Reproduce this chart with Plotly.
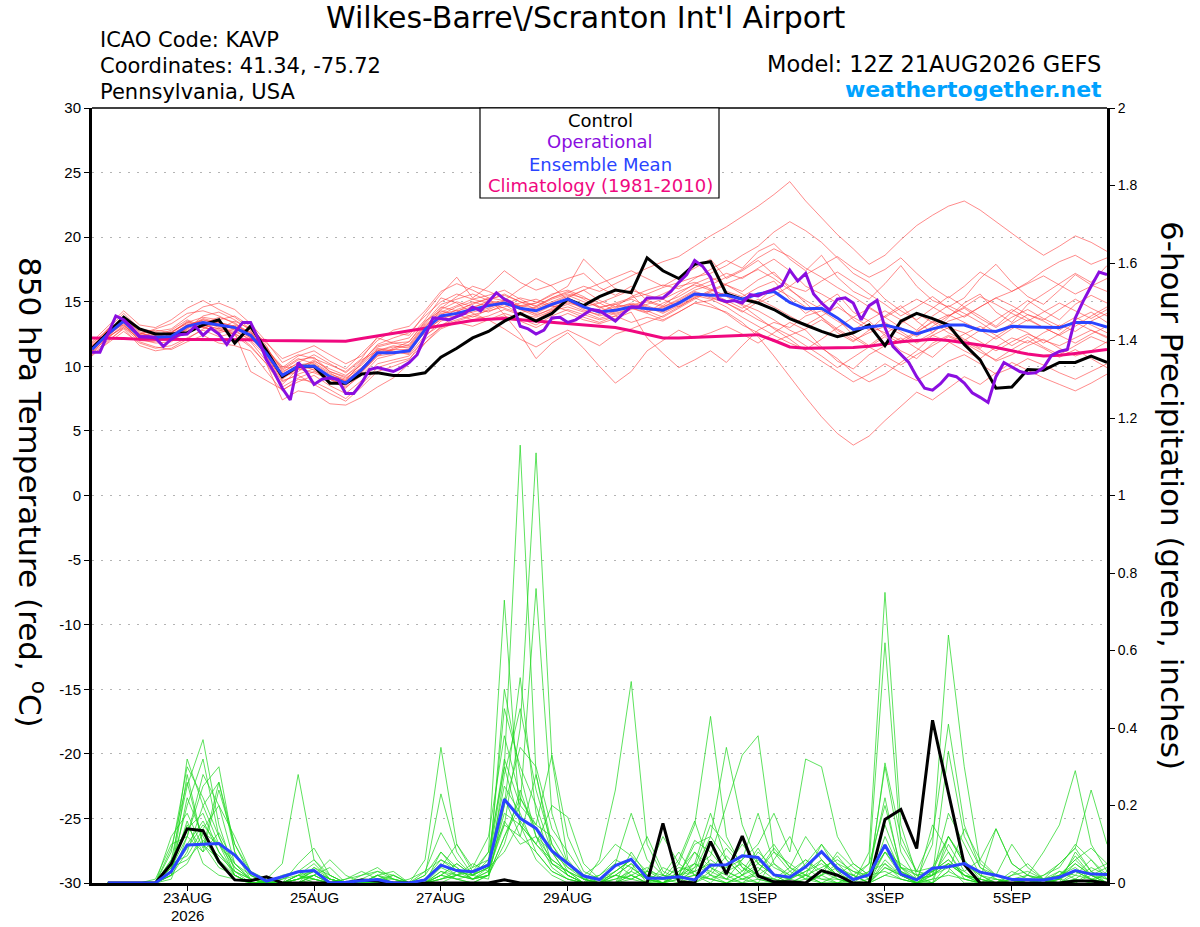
import plotly.graph_objects as go
import pandas as pd

# ---------------- time axis ----------------
t6 = pd.date_range("2026-08-21 12:00", periods=65, freq="6h")
t3 = pd.date_range("2026-08-21 12:00", periods=129, freq="3h")
tp = t6[1:]

tick_vals = ["2026-08-23", "2026-08-25", "2026-08-27", "2026-08-29",
             "2026-09-01", "2026-09-03", "2026-09-05"]
tick_text = ["23AUG", "25AUG", "27AUG", "29AUG", "1SEP", "3SEP", "5SEP"]
year_text = "2026"

left_ticks = [-30, -25, -20, -15, -10, -5, 0, 5, 10, 15, 20, 25, 30]
left_text = ["-30", "-25", "-20", "-15", "-10", "-5", "0", "5", "10", "15", "20", "25", "30"]
right_ticks = [0, 0.2, 0.4, 0.6, 0.8, 1.0, 1.2, 1.4, 1.6, 1.8, 2.0]
right_text = ["0", "0.2", "0.4", "0.6", "0.8", "1", "1.2", "1.4", "1.6", "1.8", "2"]

# ---------------- 850 hPa temperature (deg C) ----------------
control_t = [11.4, 12.6, 13.8, 12.9, 12.5, 12.5, 12.6, 13.2, 13.6, 11.8,
             13.1, 11.2, 9.2, 10.0, 10.0, 8.7, 8.7, 9.4, 9.5, 9.3,
             9.3, 9.5, 10.7, 11.4, 12.2, 12.7, 13.5, 14.1, 13.5, 14.1,
             15.2, 14.7, 15.4, 15.9, 15.7, 18.4, 17.4, 16.8, 17.9, 18.1,
             15.6, 15.2, 14.9, 14.4, 13.7, 13.2, 12.7, 12.3, 12.6, 13.2,
             11.6, 13.5, 14.1, 13.7, 13.2, 11.7, 10.5, 8.3, 8.4, 9.75,
             9.7, 10.3, 10.3, 10.8, 10.3]

mean_t = [11.3, 12.5, 13.5, 12.3, 12.25, 12.3, 13.1, 13.4, 13.2, 13.0,
          12.4, 11.0, 9.3, 10.0, 10.0, 9.2, 8.7, 9.75, 11.05, 11.05,
          11.2, 12.85, 13.9, 14.1, 14.4, 14.7, 14.9, 14.5, 14.3, 14.8,
          15.2, 14.6, 14.2, 14.35, 14.6, 14.5, 14.35, 14.9, 15.6, 15.5,
          15.5, 15.2, 15.6, 15.8, 14.95, 14.45, 14.5, 13.75, 12.85, 13.05,
          13.2, 12.9, 12.5, 12.9, 13.2, 13.2, 12.8, 12.7, 13.1, 13.05,
          13.0, 13.0, 13.4, 13.4, 13.05]

clim_t = [12.2, 12.2, 12.15, 12.1, 12.1, 12.1, 12.1, 12.05, 12.05, 12.05,
          12.05, 12.0, 12.0, 12.0, 12.0, 12.0, 11.95, 12.15, 12.35, 12.55,
          12.75, 12.95, 13.2, 13.4, 13.55, 13.65, 13.7, 13.6, 13.5, 13.4,
          13.3, 13.2, 13.1, 13.0, 12.75, 12.5, 12.2, 12.2, 12.25, 12.3,
          12.35, 12.4, 12.45, 12.0, 11.5, 11.4, 11.4, 11.4, 11.45, 11.55,
          11.75, 11.9, 12.0, 12.1, 12.0, 11.85, 11.65, 11.45, 11.2, 10.95,
          10.8, 10.85, 11.0, 11.15, 11.3]

oper_t = [11.1, 11.1, 12.5, 13.9, 13.6, 13.0, 12.3, 12.3, 12.2, 11.55,
          12.1, 12.45, 12.5, 13.1, 12.4, 12.95, 12.5, 11.7, 12.6, 13.4,
          13.4, 12.1, 10.5, 9.5, 8.3, 7.4, 10.3, 9.6, 8.6, 9.0,
          9.1, 9.0, 7.9, 7.9, 8.7, 9.75, 9.9, 9.75, 9.6, 9.9,
          10.3, 10.9, 12.3, 13.75, 13.7, 13.6, 13.85, 14.1, 14.6, 14.3,
          15.0, 15.7, 15.2, 14.9, 13.1, 12.9, 12.5, 12.8, 13.75, 13.8,
          13.4, 13.6, 14.0, 14.4, 14.3, 13.9, 13.5, 14.1, 14.6, 14.6,
          15.3, 15.3, 15.3, 15.8, 16.5, 17.1, 18.2, 17.75, 16.9, 15.2,
          15.0, 15.1, 14.9, 15.55, 15.45, 15.75, 15.95, 16.25, 17.45, 16.6,
          17.2, 15.6, 14.9, 14.35, 15.2, 15.3, 14.9, 13.6, 14.7, 15.1,
          13.0, 11.55, 10.9, 10.3, 9.2, 8.3, 8.15, 8.65, 9.35, 9.2,
          8.7, 7.95, 7.6, 7.2, 9.2, 10.3, 9.95, 9.6, 9.45, 9.5,
          9.9, 10.85, 11.15, 11.3, 13.75, 15.05, 16.2, 17.3, 17.1]

ens_t01 = [11.0, 12.3, 13.8, 12.6, 12.2, 12.0, 12.9, 13.9, 14.2, 13.6, 12.8, 10.6, 8.8, 9.4, 9.8,
           9.0, 8.3, 9.5, 10.8, 11.4, 11.9, 13.4, 14.8, 15.2, 15.6, 15.1, 14.8, 14.0, 13.6, 14.3,
           15.3, 15.9, 15.1, 14.6, 15.4, 15.9, 16.3, 16.0, 16.8, 17.5, 18.2, 17.6, 18.9, 19.5, 18.3,
           17.4, 18.6, 16.9, 15.8, 15.2, 16.4, 17.8, 16.2, 15.1, 14.6, 15.3, 16.8, 17.9, 16.5, 15.4,
           14.8, 15.9, 17.1, 16.3, 15.8]
ens_t02 = [11.6, 12.7, 13.2, 12.0, 11.9, 12.6, 13.5, 13.0, 12.8, 12.5, 11.9, 10.4, 8.6, 9.8, 10.5,
           9.6, 9.2, 10.4, 11.6, 11.9, 12.2, 13.6, 15.3, 14.9, 14.1, 13.6, 12.9, 12.1, 11.5, 12.2,
           12.8, 12.2, 11.6, 12.5, 12.9, 13.4, 13.9, 14.6, 15.3, 14.8, 14.1, 13.2, 12.6, 11.9, 12.4,
           11.6, 10.8, 9.9, 10.7, 11.5, 12.3, 11.2, 10.6, 11.8, 12.4, 11.9, 11.3, 10.4, 10.9, 11.6,
           12.1, 11.4, 10.8, 11.2, 11.9]
ens_t03 = [11.2, 12.9, 14.1, 12.9, 12.7, 12.9, 13.8, 14.6, 14.9, 14.4, 13.3, 11.9, 10.3, 10.9, 10.6,
           10.1, 9.6, 10.6, 12.3, 12.6, 12.4, 14.1, 15.6, 16.9, 15.3, 16.2, 17.4, 16.5, 15.9, 16.3,
           16.8, 17.2, 16.1, 15.5, 16.2, 15.1, 14.7, 15.6, 16.4, 16.9, 16.3, 15.8, 16.7, 17.3, 16.0,
           14.9, 13.8, 12.6, 11.9, 12.8, 13.9, 14.7, 13.5, 12.6, 13.8, 14.9, 15.6, 14.2, 13.4, 14.8,
           15.6, 16.4, 17.2, 16.5, 17.8]
ens_t04 = [10.9, 11.8, 12.7, 11.8, 11.4, 11.6, 12.2, 12.8, 12.3, 12.6, 9.6, 8.9, 8.2, 8.8, 9.3,
           8.5, 7.9, 8.9, 10.2, 10.5, 10.8, 12.1, 13.0, 13.5, 13.9, 13.6, 14.1, 13.7, 13.2, 13.9,
           14.4, 14.0, 13.6, 13.9, 13.4, 13.8, 13.5, 14.2, 14.9, 15.1, 15.8, 15.4, 16.1, 16.6, 15.2,
           14.1, 14.8, 15.6, 14.2, 13.5, 12.4, 11.8, 12.6, 13.5, 12.9, 12.1, 11.4, 12.3, 13.1, 12.6,
           11.8, 12.5, 13.4, 12.8, 12.2]
ens_t05 = [11.7, 12.9, 13.6, 12.5, 12.9, 13.3, 14.1, 14.3, 13.9, 13.3, 12.6, 11.4, 9.8, 10.6, 10.2,
           9.4, 9.0, 10.2, 11.5, 11.8, 11.6, 13.2, 14.2, 14.7, 15.2, 15.5, 15.9, 15.2, 14.6, 15.3,
           15.8, 15.2, 14.5, 14.9, 15.3, 15.6, 16.1, 16.5, 16.9, 17.2, 17.8, 18.6, 19.3, 20.4, 21.2,
           20.5, 19.6, 18.4, 17.2, 16.5, 15.2, 14.3, 13.6, 14.5, 15.4, 14.6, 13.9, 13.1, 14.2, 15.1,
           14.3, 13.6, 14.8, 15.5, 14.9]
ens_t06 = [11.4, 12.4, 13.3, 12.1, 11.8, 11.9, 12.7, 13.2, 12.9, 13.5, 12.9, 11.2, 9.6, 10.2, 9.7,
           8.8, 8.4, 9.3, 10.6, 10.9, 11.3, 12.6, 13.7, 14.4, 14.8, 15.3, 14.0, 12.5, 10.6, 11.8,
           12.6, 11.4, 10.0, 8.7, 9.6, 11.2, 12.0, 12.8, 12.2, 12.6, 13.1, 12.5, 11.8, 12.6, 13.4,
           12.8, 11.5, 10.4, 9.8, 10.9, 11.6, 12.2, 11.4, 10.7, 11.8, 12.5, 13.1, 12.4, 11.6, 12.3,
           11.5, 10.9, 11.6, 12.3, 11.8]
ens_t07 = [11.1, 12.6, 13.9, 12.8, 12.4, 12.6, 13.4, 13.8, 13.6, 13.9, 13.1, 11.6, 9.2, 9.6, 10.4,
           9.8, 9.3, 10.1, 11.3, 11.1, 11.0, 12.8, 14.4, 15.0, 14.6, 14.2, 14.8, 15.3, 15.0, 14.6,
           14.9, 14.6, 14.9, 15.4, 15.9, 15.5, 15.2, 15.8, 16.3, 15.9, 15.5, 14.8, 14.3, 13.6, 12.8,
           12.2, 11.4, 10.6, 9.5, 8.8, 9.4, 10.3, 11.2, 12.4, 11.9, 11.2, 10.6, 11.5, 12.2, 11.8,
           12.6, 13.2, 12.7, 13.5, 14.1]
ens_t08 = [11.5, 12.2, 13.1, 12.4, 12.6, 12.4, 12.8, 13.1, 13.3, 12.4, 11.5, 10.2, 8.4, 9.1, 9.6,
           9.2, 8.9, 10.3, 11.7, 12.2, 12.6, 13.9, 15.0, 15.6, 15.2, 14.9, 14.5, 14.1, 14.6, 15.2,
           15.6, 15.3, 14.9, 14.3, 14.8, 14.2, 14.9, 15.4, 16.1, 16.6, 17.2, 16.8, 17.6, 18.3, 17.4,
           16.2, 15.6, 14.9, 13.6, 12.8, 13.4, 12.7, 11.9, 12.6, 13.5, 13.9, 14.6, 15.3, 14.7, 14.0,
           13.6, 14.4, 15.2, 14.5, 13.9]
ens_t09 = [10.8, 11.9, 13.0, 11.9, 11.5, 11.3, 11.9, 12.4, 11.8, 11.6, 11.2, 9.6, 8.1, 9.0, 8.8,
           8.2, 7.5, 8.6, 9.9, 10.3, 10.6, 11.8, 12.9, 13.4, 13.1, 13.6, 13.9, 13.5, 13.0, 13.6,
           14.1, 13.6, 13.3, 13.7, 14.2, 12.2, 11.0, 9.9, 10.5, 11.2, 10.3, 11.6, 12.8, 13.4, 13.0,
           13.9, 14.3, 13.5, 12.8, 13.6, 14.3, 13.6, 12.8, 13.9, 14.7, 14.1, 13.4, 12.6, 13.3, 14.0,
           13.5, 12.8, 13.6, 14.2, 13.4]
ens_t10 = [11.3, 12.8, 13.5, 12.2, 12.4, 12.8, 13.6, 13.1, 12.6, 12.9, 12.2, 11.1, 9.9, 10.8, 11.2,
           10.4, 9.8, 11.0, 12.2, 11.8, 11.9, 13.5, 14.3, 14.0, 14.5, 15.1, 15.6, 15.0, 14.4, 14.9,
           15.4, 15.9, 16.4, 16.9, 17.4, 16.8, 16.2, 16.9, 17.6, 18.3, 16.8, 17.4, 18.2, 17.1, 16.2,
           15.8, 16.6, 17.3, 16.5, 15.6, 14.8, 13.9, 14.6, 15.4, 14.5, 13.8, 14.6, 15.3, 15.8, 16.4,
           17.0, 16.3, 15.6, 16.2, 16.8]
ens_t11 = [11.9, 13.1, 14.3, 13.2, 13.0, 13.6, 14.5, 15.1, 14.4, 13.8, 12.9, 11.8, 10.6, 11.1, 11.6,
           10.9, 10.2, 10.8, 12.0, 12.8, 13.1, 14.3, 15.8, 16.4, 15.9, 15.3, 15.1, 14.6, 14.9, 15.5,
           16.2, 18.3, 17.1, 16.0, 15.6, 14.3, 13.8, 14.5, 15.2, 15.8, 16.3, 15.6, 14.9, 15.5, 16.2,
           17.1, 17.8, 18.5, 17.6, 16.9, 17.5, 18.4, 17.2, 16.1, 15.3, 16.2, 17.3, 16.6, 15.8, 16.5,
           17.4, 18.1, 18.6, 17.9, 18.4]
ens_t12 = [11.0, 12.0, 12.9, 11.6, 11.2, 11.4, 12.1, 12.9, 13.5, 12.8, 12.0, 10.8, 8.9, 9.3, 8.6,
           7.9, 7.3, 8.4, 9.6, 10.0, 10.5, 12.3, 13.5, 13.9, 14.2, 14.5, 15.1, 16.0, 16.8, 16.2,
           15.1, 14.4, 13.9, 14.2, 14.7, 15.1, 15.6, 16.2, 16.5, 16.0, 15.4, 14.7, 13.8, 12.9, 12.1,
           11.2, 10.4, 9.6, 8.8, 9.4, 10.2, 9.5, 8.9, 9.6, 10.4, 10.9, 10.2, 9.4, 9.9, 10.6,
           10.1, 9.5, 9.0, 9.6, 10.2]
ens_t13 = [11.6, 12.6, 13.7, 12.7, 12.1, 12.2, 13.0, 13.6, 13.2, 12.9, 12.4, 10.9, 9.5, 10.3, 10.9,
           10.2, 9.5, 10.5, 11.2, 11.6, 11.4, 13.0, 14.5, 15.4, 16.2, 15.8, 15.3, 14.7, 14.9, 15.6,
           15.9, 15.4, 14.6, 14.0, 14.5, 15.0, 14.6, 15.1, 15.8, 15.4, 14.9, 14.2, 15.0, 16.1, 15.4,
           14.6, 13.8, 12.9, 12.2, 11.5, 10.8, 10.1, 10.9, 11.6, 12.3, 11.8, 11.1, 10.5, 11.3, 12.0,
           11.4, 10.7, 11.3, 10.6, 9.9]
ens_t14 = [11.2, 12.4, 13.4, 12.3, 12.6, 12.5, 13.2, 13.5, 13.0, 12.7, 12.1, 11.3, 10.0, 9.8, 9.5,
           9.0, 8.6, 9.7, 11.4, 11.2, 10.9, 12.4, 13.2, 13.6, 14.0, 14.3, 14.6, 14.9, 15.2, 14.7,
           14.3, 13.8, 13.4, 13.9, 14.4, 14.8, 15.2, 14.6, 15.3, 15.9, 16.4, 16.9, 17.5, 16.8, 15.9,
           15.1, 14.4, 13.7, 12.4, 11.6, 12.5, 13.3, 14.1, 13.4, 12.6, 12.0, 12.8, 13.6, 14.4, 13.7,
           13.0, 12.4, 13.1, 13.9, 14.6]
ens_t15 = [11.8, 12.8, 13.5, 12.4, 12.3, 12.7, 13.3, 13.0, 12.7, 13.2, 12.6, 10.7, 9.1, 10.1, 10.3,
           9.5, 8.8, 9.9, 11.1, 11.3, 11.7, 13.3, 14.6, 14.3, 13.8, 14.4, 14.9, 14.4, 13.9, 14.5,
           15.0, 14.6, 14.1, 14.8, 15.2, 14.7, 14.2, 14.8, 15.5, 15.2, 14.6, 13.8, 13.1, 12.4, 11.8,
           11.3, 12.1, 13.0, 13.8, 14.5, 13.8, 13.0, 12.3, 13.1, 13.9, 14.5, 13.7, 13.0, 13.8, 14.4,
           13.7, 13.1, 13.8, 13.2, 12.6]
ens_t16 = [11.4, 12.5, 13.6, 12.5, 12.0, 12.1, 12.6, 13.3, 13.8, 13.4, 12.3, 11.0, 9.0, 9.9, 10.1,
           9.3, 8.9, 9.8, 11.0, 11.0, 11.1, 12.7, 14.0, 14.6, 15.0, 14.6, 14.9, 14.7, 14.5, 15.0,
           15.5, 15.0, 14.6, 14.8, 14.5, 14.2, 14.6, 15.2, 15.9, 16.3, 16.9, 17.5, 18.4, 19.1, 18.5,
           17.6, 16.9, 16.1, 15.4, 14.6, 13.8, 14.5, 15.2, 14.6, 13.9, 14.6, 15.4, 14.8, 14.1, 13.5,
           14.2, 14.9, 14.3, 13.7, 14.4]
ens_t17 = [11.1, 12.2, 13.2, 12.0, 12.2, 12.3, 12.9, 13.4, 13.1, 13.0, 12.7, 11.5, 9.7, 10.5, 10.7,
           9.6, 9.1, 9.9, 11.2, 11.5, 11.5, 13.1, 14.1, 14.3, 14.6, 14.9, 15.1, 14.6, 14.0, 14.4,
           14.8, 14.3, 14.0, 14.5, 14.9, 14.6, 14.1, 14.7, 15.4, 15.7, 15.1, 14.5, 15.2, 14.6, 13.9,
           13.2, 13.9, 14.6, 13.8, 13.1, 12.6, 12.0, 12.7, 13.4, 14.0, 13.4, 12.8, 12.1, 12.9, 13.6,
           13.0, 12.4, 11.8, 12.5, 13.1]
ens_t18 = [11.5, 12.3, 13.0, 12.2, 12.5, 12.2, 13.0, 13.7, 13.4, 13.1, 12.5, 11.2, 9.4, 10.0, 9.9,
           9.1, 8.7, 9.6, 10.9, 11.3, 11.3, 12.9, 13.8, 13.9, 14.3, 14.8, 15.0, 14.4, 14.1, 14.7,
           15.1, 14.5, 14.3, 14.6, 14.8, 14.5, 14.5, 15.0, 15.7, 15.3, 14.9, 14.3, 13.6, 13.0, 12.4,
           12.9, 13.6, 12.8, 12.0, 12.6, 13.1, 12.5, 11.8, 12.4, 13.0, 12.6, 11.9, 11.2, 11.9, 12.5,
           12.0, 11.6, 12.2, 12.8, 12.3]
ens_t19 = [11.3, 12.6, 13.4, 12.3, 12.1, 12.4, 13.2, 13.6, 13.4, 13.1, 12.2, 10.9, 9.1, 9.8, 9.9,
           9.0, 8.5, 9.6, 10.8, 11.0, 11.2, 12.8, 13.6, 14.2, 14.9, 15.2, 15.5, 15.0, 14.7, 15.3,
           15.7, 16.2, 15.8, 16.4, 17.0, 17.6, 18.1, 18.5, 19.3, 20.1, 20.8, 21.6, 22.4, 23.3, 24.3,
           22.8, 21.5, 20.2, 19.1, 17.9, 18.6, 19.8, 20.9, 21.7, 22.4, 22.8, 22.1, 21.2, 20.3, 19.4,
           18.6, 19.3, 20.1, 19.6, 18.9]
ens_t20 = [11.2, 12.3, 13.4, 12.5, 12.8, 12.6, 13.4, 13.2, 12.9, 12.6, 11.6, 10.2, 7.4, 8.1, 7.9,
           7.1, 7.0, 7.6, 8.4, 9.1, 10.2, 11.8, 13.1, 14.0, 13.6, 13.9, 14.4, 14.0, 13.8, 14.3,
           14.6, 14.2, 13.7, 14.1, 14.5, 14.1, 13.6, 14.2, 14.9, 14.6, 14.2, 13.4, 12.3, 10.8, 9.2,
           7.6, 6.1, 4.8, 3.9, 4.6, 5.8, 6.9, 8.0, 7.4, 8.3, 9.2, 8.6, 9.5, 10.3, 9.7,
           9.1, 8.6, 8.1, 8.7, 9.4]

ens_t = [ens_t01, ens_t02, ens_t03, ens_t04, ens_t05, ens_t06, ens_t07, ens_t08, ens_t09, ens_t10,
         ens_t11, ens_t12, ens_t13, ens_t14, ens_t15, ens_t16, ens_t17, ens_t18, ens_t19, ens_t20]

# ---------------- 6-hour precipitation (inches), valid 21AUG18Z onward ----------------
control_p = [0, 0, 0, 0, 0.05, 0.14, 0.135, 0.055, 0.008, 0.006, 0.016, 0, 0, 0, 0, 0,
             0.008, 0.005, 0, 0, 0, 0, 0, 0, 0, 0.008, 0, 0, 0, 0, 0, 0,
             0, 0, 0, 0.154, 0.003, 0, 0.107, 0.023, 0.121, 0.018, 0.003, 0.003, 0, 0.032, 0.02, 0,
             0, 0.164, 0.19, 0.089, 0.42, 0.233, 0.048, 0, 0, 0, 0, 0, 0, 0.005, 0.005, 0]

mean_p = [0, 0, 0, 0, 0.03, 0.098, 0.1, 0.102, 0.072, 0.027, 0.005, 0.016, 0.029, 0.032, 0, 0.002,
          0.006, 0.009, 0, 0, 0.008, 0.046, 0.032, 0.029, 0.046, 0.216, 0.167, 0.141, 0.083, 0.051, 0.018, 0.009,
          0.045, 0.061, 0.012, 0.012, 0.016, 0.008, 0.046, 0.047, 0.07, 0.066, 0.021, 0.015, 0.042, 0.081, 0.038, 0.009,
          0.021, 0.098, 0.023, 0.008, 0.038, 0.042, 0.05, 0.028, 0.02, 0.009, 0.008, 0.008, 0.015, 0.032, 0.023, 0.022]

ens_p01 = [0, 0, 0, 0, 0.06, 0.25, 0.37, 0.15, 0.03, 0, 0, 0, 0.02, 0.01, 0, 0,
           0, 0, 0, 0, 0.01, 0.06, 0.03, 0.02, 0.04, 0.22, 0.12, 0.08, 0.03, 0.01, 0, 0,
           0.02, 0.05, 0, 0, 0.03, 0.08, 0.04, 0.02, 0, 0.01, 0, 0.03, 0.06, 0.02, 0, 0,
           0, 0.04, 0.02, 0, 0.03, 0.05, 0.02, 0, 0, 0, 0.01, 0, 0.02, 0.04, 0.01, 0]
ens_p02 = [0, 0, 0, 0, 0.02, 0.28, 0.1, 0.06, 0.02, 0, 0, 0, 0, 0.04, 0.02, 0,
           0, 0.02, 0, 0, 0, 0.02, 0.05, 0.02, 0.05, 0.3, 1.13, 0.28, 0.08, 0.02, 0, 0,
           0, 0.08, 0.02, 0, 0.01, 0.05, 0.18, 0.06, 0.02, 0, 0, 0.01, 0.04, 0.08, 0.03, 0,
           0, 0.12, 0.03, 0, 0.01, 0.1, 0.03, 0, 0, 0.01, 0, 0, 0, 0.02, 0.06, 0.01]
ens_p03 = [0, 0, 0, 0.01, 0.1, 0.12, 0.28, 0.2, 0.05, 0.01, 0, 0, 0, 0, 0, 0,
           0.02, 0.04, 0.01, 0, 0, 0, 0.02, 0.05, 0.03, 0.15, 0.4, 1.11, 0.32, 0.06, 0.01, 0,
           0, 0.02, 0, 0.01, 0.06, 0.16, 0.04, 0.01, 0, 0.03, 0.09, 0.04, 0.01, 0, 0.02, 0.05,
           0.02, 0.3, 0.08, 0.01, 0.02, 0.04, 0, 0, 0, 0, 0, 0, 0.01, 0.05, 0.02, 0]
ens_p04 = [0, 0, 0, 0, 0.03, 0.16, 0.05, 0.02, 0.01, 0, 0, 0, 0.05, 0.09, 0.02, 0,
           0, 0, 0, 0, 0.03, 0.13, 0.06, 0.02, 0.08, 0.73, 0.15, 0.06, 0.02, 0, 0, 0,
           0.05, 0.02, 0, 0.04, 0.02, 0, 0.03, 0.09, 0.04, 0.01, 0, 0, 0.02, 0, 0, 0.02,
           0.05, 0.2, 0.04, 0, 0.15, 0.08, 0.01, 0, 0.01, 0, 0, 0, 0, 0.08, 0.03, 0]
ens_p05 = [0, 0, 0, 0, 0.08, 0.3, 0.22, 0.12, 0.02, 0, 0, 0.01, 0.02, 0, 0, 0.01,
           0.03, 0.01, 0, 0, 0, 0.04, 0.1, 0.04, 0.06, 0.32, 0.2, 0.76, 0.18, 0.05, 0.01, 0,
           0, 0.01, 0.03, 0.12, 0.05, 0.02, 0, 0.04, 0.1, 0.05, 0.02, 0, 0, 0.03, 0.07, 0.02,
           0, 0.02, 0.04, 0.03, 0.02, 0.08, 0.02, 0.01, 0, 0, 0.02, 0.01, 0, 0.01, 0, 0.03]
ens_p06 = [0, 0, 0, 0, 0.04, 0.2, 0.32, 0.12, 0.04, 0.01, 0, 0.02, 0.03, 0.01, 0, 0,
           0, 0, 0, 0, 0.02, 0.23, 0.08, 0.02, 0.04, 0.2, 0.53, 0.18, 0.05, 0.02, 0, 0,
           0.03, 0.06, 0.01, 0, 0.02, 0.11, 0.08, 0.03, 0.01, 0, 0.06, 0.12, 0.04, 0.01, 0, 0,
           0.03, 0.22, 0.03, 0.01, 0, 0.12, 0.05, 0.02, 0.01, 0, 0, 0.01, 0.03, 0.01, 0, 0]
ens_p07 = [0, 0, 0, 0, 0.02, 0.08, 0.2, 0.26, 0.1, 0.02, 0, 0, 0.01, 0.03, 0.01, 0,
           0, 0.02, 0.03, 0, 0, 0.08, 0.03, 0.01, 0.02, 0.5, 0.28, 0.12, 0.04, 0.01, 0, 0,
           0.01, 0.03, 0.12, 0.03, 0.01, 0, 0.02, 0.07, 0.03, 0.09, 0.02, 0, 0.01, 0.06, 0.02, 0,
           0, 0.05, 0.02, 0, 0.02, 0.18, 0.1, 0.02, 0, 0.02, 0.05, 0.01, 0, 0, 0.03, 0.05]
ens_p08 = [0, 0, 0, 0, 0.12, 0.18, 0.09, 0.26, 0.08, 0.01, 0, 0, 0, 0.02, 0.06, 0.02,
           0, 0, 0, 0, 0, 0.02, 0.01, 0, 0.02, 0.28, 0.45, 0.24, 0.1, 0.03, 0, 0.06,
           0.24, 0.52, 0.1, 0.02, 0.01, 0.03, 0.12, 0.06, 0.02, 0.04, 0.01, 0, 0, 0.02, 0.08, 0.04,
           0.01, 0.08, 0.02, 0, 0, 0.03, 0.01, 0, 0, 0.01, 0, 0, 0.02, 0.06, 0.02, 0]
ens_p09 = [0, 0, 0, 0, 0.03, 0.1, 0.16, 0.08, 0.02, 0, 0, 0, 0.01, 0.04, 0.01, 0,
           0, 0, 0, 0, 0.01, 0.05, 0.02, 0.04, 0.12, 0.38, 0.22, 0.15, 0.12, 0.05, 0.01, 0,
           0, 0.02, 0.04, 0.01, 0, 0.04, 0.15, 0.1, 0.05, 0.02, 0, 0.01, 0.03, 0.06, 0.01, 0,
           0.08, 0.75, 0.15, 0.02, 0, 0.05, 0.02, 0, 0, 0, 0.01, 0.02, 0.04, 0.1, 0.06, 0.02]
ens_p10 = [0, 0, 0, 0, 0.01, 0.12, 0.25, 0.3, 0.08, 0.02, 0, 0, 0, 0.02, 0.04, 0,
           0.01, 0.03, 0.02, 0, 0, 0.01, 0.03, 0.02, 0.01, 0.2, 0.35, 0.3, 0.14, 0.08, 0.02, 0,
           0.02, 0.01, 0, 0, 0.02, 0.05, 0.03, 0.01, 0.06, 0.18, 0.05, 0.02, 0.02, 0.1, 0.05, 0.01,
           0.05, 0.62, 0.1, 0.03, 0.04, 0.12, 0.06, 0.01, 0, 0.03, 0.01, 0, 0.01, 0.07, 0.02, 0]
ens_p11 = [0, 0, 0, 0, 0.05, 0.07, 0.14, 0.2, 0.12, 0.03, 0, 0, 0.02, 0.05, 0.01, 0,
           0, 0.01, 0.02, 0, 0, 0.03, 0.01, 0, 0.02, 0.12, 0.22, 0.14, 0.05, 0.02, 0, 0.02,
           0.05, 0.18, 0.06, 0.02, 0.01, 0.08, 0.02, 0, 0.02, 0.08, 0.04, 0.02, 0.06, 0.03, 0.01, 0,
           0, 0.08, 0.03, 0.01, 0.1, 0.64, 0.3, 0.05, 0.02, 0.01, 0, 0, 0.01, 0.03, 0.01, 0]
ens_p12 = [0, 0, 0, 0, 0.02, 0.22, 0.12, 0.05, 0.01, 0, 0, 0, 0.01, 0.02, 0, 0,
           0, 0, 0, 0.01, 0.03, 0.06, 0.04, 0.01, 0.03, 0.18, 0.15, 0.1, 0.06, 0.03, 0, 0,
           0, 0.04, 0.01, 0, 0.05, 0.15, 0.43, 0.12, 0.04, 0.02, 0.05, 0.01, 0, 0.02, 0.04, 0.02,
           0, 0.04, 0.02, 0, 0.03, 0.12, 0.05, 0.02, 0, 0, 0, 0.01, 0.02, 0.05, 0.02, 0.01]
ens_p13 = [0, 0, 0, 0, 0.06, 0.14, 0.18, 0.08, 0.03, 0.01, 0, 0, 0.02, 0.03, 0.01, 0,
           0, 0.02, 0, 0, 0, 0.03, 0.02, 0.01, 0.02, 0.1, 0.24, 0.12, 0.06, 0.03, 0.01, 0.02,
           0.06, 0.04, 0.01, 0, 0.02, 0.04, 0.07, 0.2, 0.33, 0.38, 0.08, 0.03, 0.01, 0.02, 0.05, 0.03,
           0.01, 0.1, 0.04, 0.02, 0.03, 0.06, 0.02, 0, 0, 0.01, 0.02, 0, 0, 0.01, 0.04, 0.02]
ens_p14 = [0, 0, 0, 0, 0.09, 0.26, 0.1, 0.04, 0.02, 0, 0, 0.01, 0.03, 0.06, 0.02, 0,
           0, 0.01, 0, 0, 0.02, 0.08, 0.04, 0.01, 0.04, 0.45, 0.3, 0.2, 0.08, 0.02, 0, 0.01,
           0.03, 0.06, 0.02, 0.01, 0.04, 0.03, 0.01, 0.03, 0.05, 0.02, 0.01, 0.04, 0.12, 0.06, 0.02, 0,
           0.01, 0.31, 0.12, 0.03, 0.12, 0.41, 0.15, 0.04, 0.01, 0, 0, 0.02, 0.05, 0.09, 0.03, 0.01]
ens_p15 = [0, 0, 0, 0, 0.03, 0.32, 0.2, 0.1, 0.02, 0, 0, 0, 0, 0.02, 0, 0,
           0, 0.01, 0.01, 0, 0.06, 0.35, 0.1, 0.03, 0.05, 0.25, 0.18, 0.08, 0.03, 0.01, 0, 0,
           0.01, 0.02, 0, 0.02, 0.08, 0.02, 0.01, 0, 0.02, 0.05, 0.1, 0.04, 0.02, 0, 0, 0.01,
           0.03, 0.05, 0.01, 0, 0.02, 0.34, 0.12, 0.04, 0.02, 0.01, 0, 0, 0.03, 0.02, 0.01, 0]
ens_p16 = [0, 0, 0, 0, 0.04, 0.12, 0.08, 0.24, 0.1, 0.03, 0.01, 0.05, 0.28, 0.06, 0.01, 0,
           0, 0.02, 0.01, 0, 0, 0.02, 0.05, 0.02, 0.06, 0.15, 0.12, 0.28, 0.1, 0.04, 0.01, 0,
           0.02, 0.01, 0.03, 0.02, 0.01, 0.02, 0.06, 0.03, 0.01, 0.03, 0.08, 0.05, 0.02, 0.01, 0.01, 0,
           0, 0.02, 0.01, 0, 0, 0.03, 0.14, 0.06, 0.02, 0.01, 0, 0, 0.01, 0, 0.02, 0.04]
ens_p17 = [0, 0, 0, 0, 0.03, 0.09, 0.15, 0.1, 0.05, 0.02, 0, 0, 0.01, 0.02, 0, 0,
           0.01, 0, 0, 0, 0.01, 0.04, 0.02, 0.01, 0.02, 0.12, 0.2, 0.15, 0.33, 0.12, 0.03, 0.01,
           0.02, 0.05, 0.02, 0, 0.03, 0.05, 0.02, 0.01, 0.03, 0.06, 0.02, 0.01, 0.05, 0.1, 0.03, 0.02,
           0, 0.06, 0.02, 0.01, 0.02, 0.05, 0.03, 0.06, 0.14, 0.05, 0.02, 0.08, 0.15, 0.29, 0.1, 0.03]
ens_p18 = [0, 0, 0, 0, 0.02, 0.05, 0.13, 0.1, 0.04, 0.01, 0, 0, 0, 0.01, 0, 0,
           0, 0, 0.02, 0, 0, 0.01, 0.02, 0.03, 0.08, 0.3, 0.15, 0.1, 0.2, 0.17, 0.05, 0.01,
           0, 0.03, 0.01, 0, 0.01, 0.02, 0.01, 0, 0.01, 0.02, 0.01, 0, 0.02, 0.04, 0.06, 0.03,
           0.02, 0.15, 0.04, 0.01, 0.02, 0.05, 0.02, 0.01, 0.14, 0.05, 0.02, 0.01, 0.05, 0.09, 0.24, 0.1]
ens_p19 = [0, 0, 0, 0, 0.05, 0.15, 0.08, 0.13, 0.05, 0.01, 0, 0, 0.01, 0.03, 0.01, 0,
           0, 0, 0, 0, 0, 0.01, 0.02, 0.01, 0.03, 0.16, 0.1, 0.12, 0.08, 0.04, 0.02, 0.05,
           0.1, 0.07, 0.03, 0.01, 0.02, 0.1, 0.12, 0.35, 0.15, 0.05, 0.02, 0.01, 0.03, 0.05, 0.02, 0.01,
           0.02, 0.03, 0.01, 0, 0.01, 0.02, 0.01, 0, 0.02, 0.1, 0.04, 0.01, 0, 0.03, 0.01, 0.02]
ens_p20 = [0, 0, 0, 0, 0.04, 0.06, 0.11, 0.07, 0.03, 0.01, 0, 0, 0.02, 0.01, 0, 0.01,
           0.02, 0.03, 0.01, 0, 0, 0.02, 0.01, 0.02, 0.04, 0.08, 0.16, 0.1, 0.05, 0.03, 0.01, 0,
           0.03, 0.06, 0.02, 0.01, 0.02, 0.03, 0.05, 0.04, 0.06, 0.1, 0.18, 0.08, 0.32, 0.3, 0.12, 0.05,
           0.02, 0.08, 0.05, 0.02, 0.03, 0.06, 0.02, 0.01, 0, 0.02, 0.03, 0.01, 0.02, 0.06, 0.09, 0.05]

ens_p = [ens_p01, ens_p02, ens_p03, ens_p04, ens_p05, ens_p06, ens_p07, ens_p08, ens_p09, ens_p10,
         ens_p11, ens_p12, ens_p13, ens_p14, ens_p15, ens_p16, ens_p17, ens_p18, ens_p19, ens_p20]

# ---------------- styles ----------------
RED = "rgba(255,60,60,0.75)"
GREEN = "rgba(30,215,30,0.9)"
PURPLE = "#8a0ee0"
BLUE = "#2a44ff"
PINK = "#f0087f"
TICKFONT = "Liberation Sans, Arial, sans-serif"
TEXTFONT = "DejaVu Sans, Liberation Sans, sans-serif"

fig = go.Figure()

for m in ens_t:
    fig.add_trace(go.Scatter(x=t6[:len(m)], y=m, mode="lines", yaxis="y",
                             line=dict(color=RED, width=0.8), hoverinfo="skip", showlegend=False))

fig.add_trace(go.Scatter(x=t6, y=clim_t, mode="lines", yaxis="y",
                         line=dict(color=PINK, width=3), showlegend=False))
fig.add_trace(go.Scatter(x=t6, y=control_t, mode="lines", yaxis="y",
                         line=dict(color="black", width=3), showlegend=False))
fig.add_trace(go.Scatter(x=t6, y=mean_t, mode="lines", yaxis="y",
                         line=dict(color=BLUE, width=3), showlegend=False))
fig.add_trace(go.Scatter(x=t3, y=oper_t, mode="lines", yaxis="y",
                         line=dict(color=PURPLE, width=3), showlegend=False))

for m in ens_p:
    fig.add_trace(go.Scatter(x=tp[:len(m)], y=m, mode="lines", yaxis="y2",
                             line=dict(color=GREEN, width=0.8), hoverinfo="skip", showlegend=False))

fig.add_trace(go.Scatter(x=tp, y=control_p, mode="lines", yaxis="y2",
                         line=dict(color="black", width=3), showlegend=False))
fig.add_trace(go.Scatter(x=tp, y=mean_p, mode="lines", yaxis="y2",
                         line=dict(color=BLUE, width=3), showlegend=False))

# ---------------- layout ----------------
L, R, T, B = 92, 93, 108, 44
W, H = 1200, 927
PW, PH = W - L - R, H - T - B


def px(x):
    return (x - L) / PW


def py(y):
    return (H - B - y) / PH


annotations = [
    dict(text="Wilkes-Barre\\/Scranton Int'l Airport", x=px(586), y=py(18),
         font=dict(size=30, color="black", family=TEXTFONT)),
    dict(text="ICAO Code: KAVP", x=px(98), y=py(40), xanchor="left",
         font=dict(size=21, color="black", family=TEXTFONT)),
    dict(text="Coordinates: 41.34, -75.72", x=px(98), y=py(66), xanchor="left",
         font=dict(size=21, color="black", family=TEXTFONT)),
    dict(text="Pennsylvania, USA", x=px(98), y=py(92), xanchor="left",
         font=dict(size=21, color="black", family=TEXTFONT)),
    dict(text="Model: 12Z 21AUG2026 GEFS", x=px(1103), y=py(64), xanchor="right",
         font=dict(size=22.5, color="black", family=TEXTFONT)),
    dict(text="<b>weathertogether.net</b>", x=px(1104), y=py(89), xanchor="right",
         font=dict(size=22, color="#00a2ff", family=TEXTFONT)),
    dict(text="Control", x=px(600), y=py(121),
         font=dict(size=18, color="black", family=TEXTFONT)),
    dict(text="Operational", x=px(600), y=py(142),
         font=dict(size=18, color=PURPLE, family=TEXTFONT)),
    dict(text="Ensemble Mean", x=px(600), y=py(164),
         font=dict(size=18, color=BLUE, family=TEXTFONT)),
    dict(text="Climatology (1981-2010)", x=px(600), y=py(186),
         font=dict(size=18, color=PINK, family=TEXTFONT)),
    dict(text="850 hPa Temperature (red, <sup>o</sup>C)", x=px(32), y=py(492), textangle=90,
         font=dict(size=31, color="black", family=TEXTFONT)),
    dict(text="6-hour Precipitation (green, inches)", x=px(1172), y=py(495), textangle=90,
         font=dict(size=31, color="black", family=TEXTFONT)),
]
for a in annotations:
    a.update(xref="paper", yref="paper", showarrow=False)
    a.setdefault("xanchor", "center")
    a.setdefault("yanchor", "middle")

# x-axis tick labels placed as text at the tick dates
for tv, tt in zip(tick_vals, tick_text):
    annotations.append(dict(text=tt, x=tv, xref="x", y=py(897), yref="paper",
                            showarrow=False, xanchor="center", yanchor="middle",
                            font=dict(size=15, color="black", family=TICKFONT)))
annotations.append(dict(text=year_text, x=tick_vals[0], xref="x", y=py(915), yref="paper",
                        showarrow=False, xanchor="center", yanchor="middle",
                        font=dict(size=15, color="black", family=TICKFONT)))

fig.update_layout(
    width=W, height=H, autosize=False,
    margin=dict(l=L, r=R, t=T, b=B, pad=0, autoexpand=False),
    paper_bgcolor="white", plot_bgcolor="white",
    font=dict(family=TICKFONT, color="black", size=14),
    showlegend=False,
    annotations=annotations,
    shapes=[
        dict(type="line", xref="paper", yref="paper", x0=0, x1=1, y0=1, y1=1,
             line=dict(color="black", width=1.6), layer="above"),
        dict(type="rect", xref="paper", yref="paper",
             x0=px(480), x1=px(719), y0=py(198), y1=py(108),
             line=dict(color="black", width=1.2), fillcolor="white", layer="above"),
    ],
    xaxis=dict(range=[t6[0], t6[-1]], tickvals=tick_vals, showticklabels=False,
               showgrid=False, zeroline=False, showline=True, linecolor="black",
               linewidth=2.6, mirror=False, ticks="outside", ticklen=5, tickcolor="black",
               automargin=False),
    yaxis=dict(range=[-30, 30], tickvals=left_ticks, ticktext=left_text, showgrid=True,
               gridcolor="#b4b4b4", griddash="2px,7px", gridwidth=1, zeroline=False,
               showline=True, linecolor="black", linewidth=3, ticks="outside", ticklen=5,
               tickcolor="black", tickfont=dict(size=15, family=TICKFONT), automargin=False),
    yaxis2=dict(range=[0, 2], overlaying="y", side="right", tickvals=right_ticks,
                ticktext=right_text, showgrid=False, zeroline=False, showline=True,
                linecolor="black", linewidth=3, ticks="outside", ticklen=5, tickcolor="black",
                tickfont=dict(size=14, family=TICKFONT), automargin=False),
)

fig.write_html("out.html",
               config={"displayModeBar": False, "responsive": False},
               post_script="document.body.style.margin='0';document.body.style.padding='0';"
                           "document.documentElement.style.overflow='hidden';")
